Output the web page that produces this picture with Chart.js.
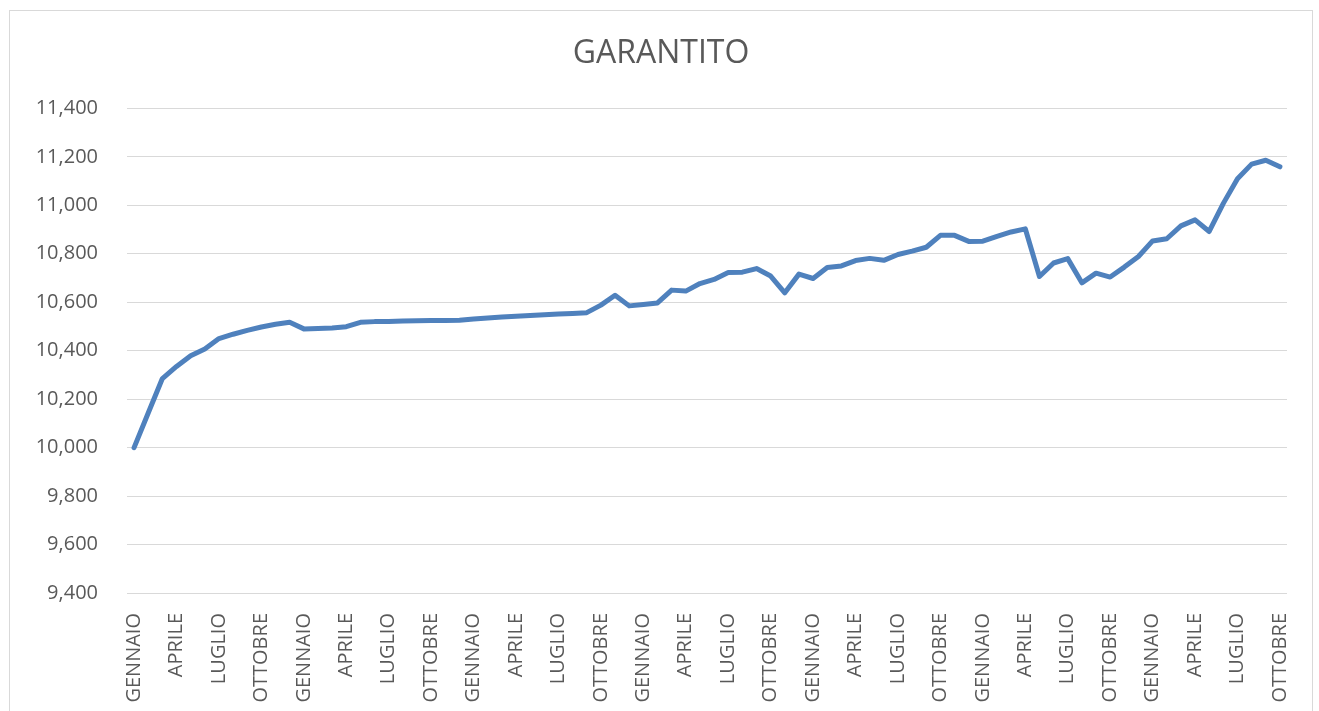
<!DOCTYPE html>
<html>
<head>
<meta charset="utf-8">
<script src="https://cdn.jsdelivr.net/npm/chart.js@4.4.0/dist/chart.umd.min.js"></script>
<style>
    html, body { margin: 0; padding: 0; background: #ffffff; overflow: hidden; }
    body { width: 1319px; height: 711px; position: relative; }
    #box {
        position: absolute; left: 9px; top: 10px;
        width: 1302px; height: 730px;
        border: 1px solid #d9d9d9; background: #ffffff;
    }
    #box canvas { display: block; }
</style>
</head>
<body>
<div id="box"><canvas id="garantitoChart" width="1302" height="730"></canvas></div>
<script>
// Mesi (l'asse mostra un'etichetta ogni 3 mesi)
const monthNames = ['GENNAIO', 'FEBBRAIO', 'MARZO', 'APRILE', 'MAGGIO', 'GIUGNO',
    'LUGLIO', 'AGOSTO', 'SETTEMBRE', 'OTTOBRE', 'NOVEMBRE', 'DICEMBRE'];
const monthCount = 82; // da gennaio del primo anno a ottobre del settimo

// Valori, uno per mese
const garantitoValues = [
    10000, 10143, 10285, 10335, 10379, 10407, 10450, 10468, 10484, 10498, 10509, 10517,
    10490, 10492, 10494, 10499, 10517, 10520, 10521, 10523, 10524, 10525, 10525, 10526,
    10531, 10535, 10539, 10542, 10545, 10548, 10551, 10554, 10557, 10588, 10629, 10585,
    10591, 10597, 10650, 10646, 10677, 10694, 10723, 10724, 10739, 10708, 10639, 10716,
    10698, 10743, 10750, 10772, 10781, 10773, 10797, 10811, 10827, 10876, 10876, 10851,
    10852, 10872, 10890, 10903, 10706, 10762, 10780, 10680, 10720, 10704, 10745, 10789,
    10853, 10862, 10915, 10940, 10892, 11008, 11110, 11170, 11186, 11159
];

const yMin = 9400;
const yMax = 11400;
const yStep = 200;

const labels = [];
for (let i = 0; i < monthCount; i++) labels.push(monthNames[i % 12]);

const textColor = '#595959';
const gridColor = '#d9d9d9';

const ctx = document.getElementById('garantitoChart').getContext('2d');

new Chart(ctx, {
    type: 'line',
    data: {
        labels: labels,
        datasets: [{
            label: 'GARANTITO',
            data: garantitoValues,
            borderColor: '#4f81bd',
            borderWidth: 5,
            borderJoinStyle: 'round',
            borderCapStyle: 'round',
            pointRadius: 0,
            pointHoverRadius: 0,
            fill: false,
            tension: 0
        }]
    },
    options: {
        responsive: false,
        animation: false,
        layout: {
            padding: { left: 25, right: 25, top: 24, bottom: 0 }
        },
        plugins: {
            legend: { display: false },
            tooltip: { enabled: false },
            title: {
                display: true,
                text: 'GARANTITO',
                color: textColor,
                font: { size: 32, family: 'Open Sans', weight: 'normal' },
                padding: { top: 0, bottom: 35 }
            }
        },
        scales: {
            y: {
                min: yMin,
                max: yMax,
                afterFit: function(scale) { scale.width = 92; },
                ticks: {
                    stepSize: yStep,
                    color: textColor,
                    padding: 29,
                    font: { size: 20, family: 'Open Sans' },
                    callback: function(v) { return v.toLocaleString('en-US'); }
                },
                grid: { color: gridColor, lineWidth: 1, drawTicks: false },
                border: { display: false }
            },
            x: {
                offset: true,
                afterFit: function(scale) {
                    scale.height = 148;
                    scale.paddingLeft = 0;
                    scale.paddingRight = 0;
                },
                ticks: {
                    autoSkip: false,
                    maxRotation: 90,
                    minRotation: 90,
                    color: textColor,
                    padding: 20,
                    font: { size: 20, family: 'Open Sans' },
                    callback: function(v, i) { return i % 3 === 0 ? labels[i] : ''; }
                },
                grid: { display: false, drawTicks: false },
                border: { display: false }
            }
        }
    }
});
</script>
</body>
</html>
